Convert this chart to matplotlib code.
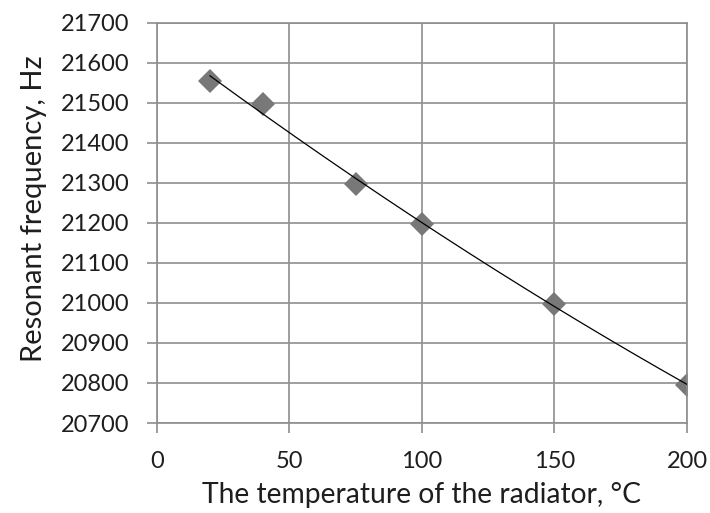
import numpy as np
import matplotlib
matplotlib.use("Agg")
import matplotlib.pyplot as plt

temperature = [20, 40, 75, 100, 150, 200]
frequency = [21555, 21496, 21298, 21197, 20997, 20795]

x_ticks = [0, 50, 100, 150, 200]
y_ticks = list(range(20700, 21701, 100))

plt.rcParams["font.family"] = ["Lato", "DejaVu Sans"]
GRID = "#8e8e8e"
TEXT = "#1e1e1e"

fig = plt.figure(figsize=(7.10, 5.13), dpi=100)
ax = fig.add_axes([0.2211, 0.1754, 0.7465, 0.7804])

# trend line (2nd order polynomial fit, like the spreadsheet trendline)
coef = np.polyfit(temperature, frequency, 2)
xs = np.linspace(min(temperature), max(temperature), 200)
ax.plot(xs, np.polyval(coef, xs), color="black", lw=0.9, zorder=3)

ax.plot(temperature, frequency, linestyle="none", marker="D", markersize=12.5,
        color="#787878", markeredgewidth=0, zorder=2)

ax.set_xlim(0, 200)
ax.set_ylim(20700, 21700)
ax.set_xticks(x_ticks)
ax.set_yticks(y_ticks)
ax.grid(True, color=GRID, lw=1.2)
ax.set_axisbelow(True)
for s in ax.spines.values():
    s.set_color(GRID)
    s.set_linewidth(1.2)
ax.tick_params(axis="both", colors=GRID, length=7, width=1.2,
               labelcolor=TEXT, labelsize=17, pad=13)

ax.set_xlabel("The temperature of the radiator, °C", fontsize=20.3, color=TEXT, labelpad=7)
ax.set_ylabel("Resonant frequency, Hz", fontsize=21, color=TEXT, labelpad=10)
ax.yaxis.label.set_y(0.535)

fig.savefig("out.png", dpi=100)
